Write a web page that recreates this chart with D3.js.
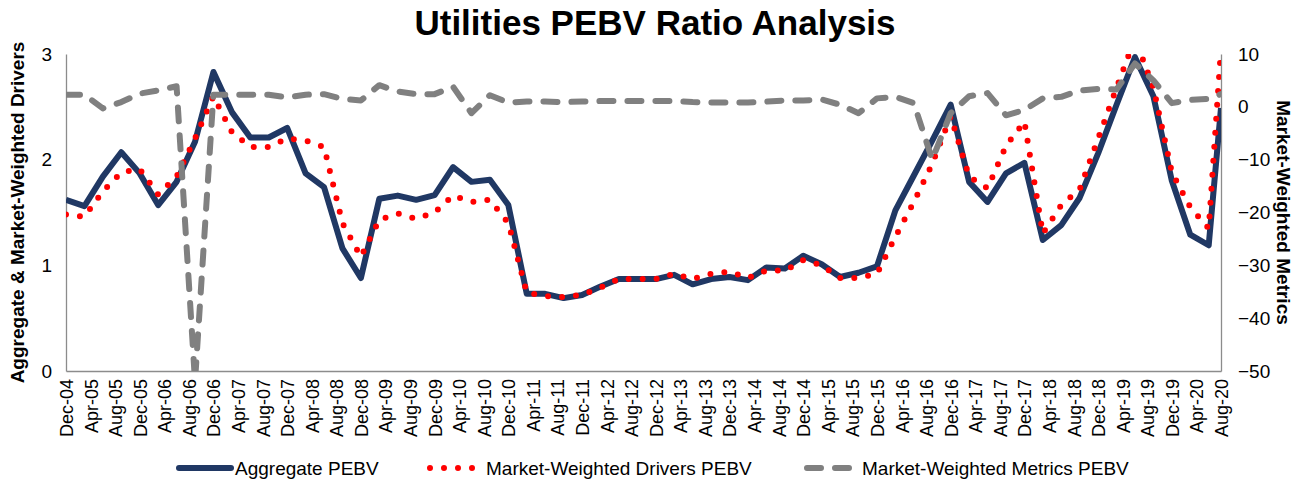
<!DOCTYPE html>
<html>
<head>
<meta charset="utf-8">
<script src="https://cdn.jsdelivr.net/npm/d3@7/dist/d3.min.js"></script>
<style>
  body { margin: 0; background: #ffffff; }
  svg text { font-family: "Liberation Sans", Arial, sans-serif; fill: #000; }
</style>
</head>
<body>
<svg id="chart" width="1304" height="489"></svg>
<script>
// Quarter-end observations (last one is the latest reading)
const periods = [
  "Dec-04","Mar-05","Jun-05","Sep-05","Dec-05","Mar-06","Jun-06","Sep-06",
  "Dec-06","Mar-07","Jun-07","Sep-07","Dec-07","Mar-08","Jun-08","Sep-08",
  "Dec-08","Mar-09","Jun-09","Sep-09","Dec-09","Mar-10","Jun-10","Sep-10",
  "Dec-10","Mar-11","Jun-11","Sep-11","Dec-11","Mar-12","Jun-12","Sep-12",
  "Dec-12","Mar-13","Jun-13","Sep-13","Dec-13","Mar-14","Jun-14","Sep-14",
  "Dec-14","Mar-15","Jun-15","Sep-15","Dec-15","Mar-16","Jun-16","Sep-16",
  "Dec-16","Mar-17","Jun-17","Sep-17","Dec-17","Mar-18","Jun-18","Sep-18",
  "Dec-18","Mar-19","Jun-19","Sep-19","Dec-19","Mar-20","Jun-20","Aug-20"
];

// Aggregate PEBV (left axis)
const aggregatePEBV = [
  1.62, 1.56, 1.84, 2.07, 1.87, 1.57, 1.79, 2.17,
  2.83, 2.45, 2.21, 2.21, 2.30, 1.87, 1.74, 1.16,
  0.88, 1.63, 1.66, 1.62, 1.665, 1.93, 1.79, 1.81,
  1.57, 0.73, 0.73, 0.69, 0.72, 0.80, 0.87, 0.87,
  0.87, 0.91, 0.82, 0.87, 0.89, 0.86, 0.98, 0.97,
  1.09, 1.01, 0.89, 0.93, 0.99, 1.52, 1.85, 2.18,
  2.52, 1.79, 1.60, 1.87, 1.97, 1.24, 1.38, 1.64,
  2.06, 2.52, 2.97, 2.60, 1.80, 1.29, 1.19, 2.49
];

// Market-Weighted Drivers PEBV (left axis)
const driversPEBV = [
  1.48, 1.46, 1.70, 1.88, 1.91, 1.67, 1.84, 2.20,
  2.60, 2.26, 2.12, 2.12, 2.20, 2.18, 2.12, 1.40,
  1.08, 1.43, 1.49, 1.44, 1.50, 1.66, 1.60, 1.62,
  1.40, 0.74, 0.71, 0.70, 0.72, 0.79, 0.87, 0.87,
  0.87, 0.92, 0.87, 0.92, 0.94, 0.88, 0.95, 0.95,
  1.05, 1.00, 0.88, 0.88, 0.92, 1.27, 1.60, 1.96,
  2.41, 1.84, 1.73, 2.13, 2.36, 1.30, 1.57, 1.72,
  2.20, 2.68, 3.15, 2.68, 1.88, 1.55, 1.35, 3.05
];

// Market-Weighted Metrics PEBV (right axis)
const metricsPEBV = [
  2.3, 2.3, -0.3, 0.9, 2.5, 3.1, 3.9, -52,
  2.3, 2.3, 2.3, 2.3, 1.8, 2.3, 2.4, 1.5,
  1.2, 4.1, 2.9, 2.4, 2.4, 3.8, -1.2, 2.2,
  0.8, 1.0, 1.0, 0.9, 1.0, 1.1, 1.1, 1.1,
  1.1, 1.1, 0.9, 0.8, 0.8, 0.8, 1.0, 1.2,
  1.2, 1.4, 0.4, -1.2, 1.6, 1.9, 0.7, -10,
  -1.2, 2.0, 2.6, -1.6, -0.6, 1.6, 1.9, 3.1,
  3.4, 3.3, 8.2, 5.0, 0.7, 1.3, 1.5, 2.4
];

// Category labels along the bottom axis (every four months)
const tickLabels = [
  "Dec-04","Apr-05","Aug-05","Dec-05","Apr-06","Aug-06","Dec-06","Apr-07",
  "Aug-07","Dec-07","Apr-08","Aug-08","Dec-08","Apr-09","Aug-09","Dec-09",
  "Apr-10","Aug-10","Dec-10","Apr-11","Aug-11","Dec-11","Apr-12","Aug-12",
  "Dec-12","Apr-13","Aug-13","Dec-13","Apr-14","Aug-14","Dec-14","Apr-15",
  "Aug-15","Dec-15","Apr-16","Aug-16","Dec-16","Apr-17","Aug-17","Dec-17",
  "Apr-18","Aug-18","Dec-18","Apr-19","Aug-19","Dec-19","Apr-20","Aug-20"
];

const leftTicks = [0, 1, 2, 3];
const rightTicks = [10, 0, -10, -20, -30, -40, -50];

const seriesNames = ["Aggregate PEBV", "Market-Weighted Drivers PEBV", "Market-Weighted Metrics PEBV"];

const parse = d3.timeParse("%b-%y");
const monthIndex = d => d.getFullYear() * 12 + d.getMonth();

const plot = { left: 66, right: 1221, top: 54, bottom: 371 };

const x = d3.scaleLinear()
  .domain([monthIndex(parse(tickLabels[0])), monthIndex(parse(tickLabels[tickLabels.length - 1]))])
  .range([plot.left, plot.right]);
const yL = d3.scaleLinear().domain([0, 3]).range([plot.bottom, plot.top]);
const yR = d3.scaleLinear().domain([-50, 10]).range([plot.bottom, plot.top]);

const svg = d3.select("#chart");

svg.append("defs").append("clipPath").attr("id", "plotClip")
  .append("rect")
  .attr("x", plot.left).attr("y", plot.top)
  .attr("width", plot.right - plot.left).attr("height", plot.bottom - plot.top);

// Title
svg.append("text")
  .attr("x", 655).attr("y", 35)
  .attr("text-anchor", "middle")
  .style("font-size", "35px").style("font-weight", "bold")
  .text("Utilities PEBV Ratio Analysis");

// Axes
const axisColor = "#8c8c8c";
const gL = svg.append("g").attr("transform", `translate(${plot.left},0)`)
  .call(d3.axisLeft(yL).tickValues(leftTicks).tickSize(0).tickPadding(14).tickFormat(d3.format("d")));
const gR = svg.append("g").attr("transform", `translate(${plot.right},0)`)
  .call(d3.axisRight(yR).tickValues(rightTicks).tickSize(0).tickPadding(17).tickFormat(d3.format("d")));
const gB = svg.append("g").attr("transform", `translate(0,${plot.bottom})`)
  .call(d3.axisBottom(x).tickValues(tickLabels.map(t => monthIndex(parse(t))))
    .tickSize(0).tickFormat((d, i) => tickLabels[i]));

[gL, gR, gB].forEach(g => {
  g.select(".domain").attr("stroke", axisColor).attr("stroke-width", 1.3);
  g.selectAll("text").style("font-size", "19px").style("font-family", '"Liberation Sans", Arial, sans-serif').attr("fill", "#000");
});
gB.selectAll("text")
  .attr("transform", "rotate(-90)")
  .attr("text-anchor", "end")
  .attr("x", -8).attr("y", 0).attr("dy", "0.36em")
  .style("font-size", "18px");

// Axis titles
svg.append("text")
  .attr("transform", `translate(24,${(plot.top + plot.bottom) / 2}) rotate(-90)`)
  .attr("text-anchor", "middle")
  .style("font-size", "19px").style("font-weight", "bold")
  .text("Aggregate & Market-Weighted Drivers");
svg.append("text")
  .attr("transform", `translate(1277,${(plot.top + plot.bottom) / 2}) rotate(90)`)
  .attr("text-anchor", "middle")
  .style("font-size", "19px").style("font-weight", "bold")
  .text("Market-Weighted Metrics");

// Series
const pts = periods.map(p => monthIndex(parse(p)));
const lineL = d3.line().x((d, i) => x(pts[i])).y(d => yL(d));
const lineR = d3.line().x((d, i) => x(pts[i])).y(d => yR(d));

const styles = [
  { stroke: "#203864", width: 6, dash: null, cap: "butt" },
  { stroke: "#ff0000", width: 6, dash: "0 14", cap: "round" },
  { stroke: "#808080", width: 6, dash: "14 14", cap: "round" }
];

const lines = svg.append("g").attr("clip-path", "url(#plotClip)");
lines.append("path").datum(aggregatePEBV).attr("d", lineL)
  .attr("fill", "none").attr("stroke", styles[0].stroke).attr("stroke-width", styles[0].width)
  .attr("stroke-linejoin", "round");
lines.append("path").datum(driversPEBV).attr("d", lineL)
  .attr("fill", "none").attr("stroke", styles[1].stroke).attr("stroke-width", styles[1].width)
  .attr("stroke-dasharray", styles[1].dash).attr("stroke-linecap", styles[1].cap)
  .attr("stroke-linejoin", "round");
lines.append("path").datum(metricsPEBV).attr("d", lineR)
  .attr("fill", "none").attr("stroke", styles[2].stroke).attr("stroke-width", styles[2].width)
  .attr("stroke-dasharray", styles[2].dash).attr("stroke-linecap", styles[2].cap)
  .attr("stroke-linejoin", "round");

// Legend
const legendY = 468;
const legendItems = [
  { x0: 179, x1: 231, tx: 235 },
  { x0: 430, x1: 474, tx: 486 },
  { x0: 807, x1: 853, tx: 862 }
];
const lg = svg.append("g");
legendItems.forEach((it, i) => {
  lg.append("line")
    .attr("x1", it.x0).attr("x2", it.x1).attr("y1", legendY).attr("y2", legendY)
    .attr("stroke", styles[i].stroke).attr("stroke-width", styles[i].width)
    .attr("stroke-dasharray", styles[i].dash)
    .attr("stroke-linecap", i === 0 ? "round" : styles[i].cap);
  lg.append("text")
    .attr("x", it.tx).attr("y", legendY).attr("dy", "0.35em")
    .style("font-size", "19px")
    .text(seriesNames[i]);
});
</script>
</body>
</html>
